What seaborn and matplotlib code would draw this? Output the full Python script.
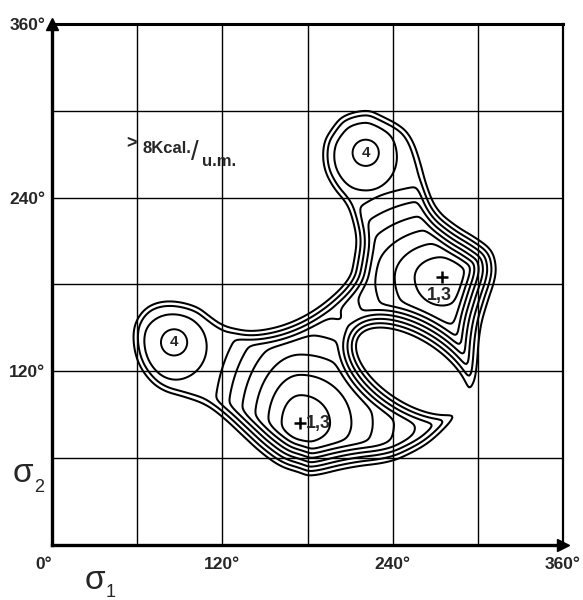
import numpy as np
import matplotlib
matplotlib.use("Agg")
import matplotlib.pyplot as plt
import seaborn as sns
from matplotlib.path import Path

# axes (degrees)
grid_positions = [0, 60, 120, 180, 240, 300, 360]
x_tick_labels = ["0°", "", "120°", "", "240°", "", "360°"]
y_tick_labels = ["", "", "120°", "", "240°", "", "360°"]

# contour levels, kcal/u.m.
levels = [1, 2, 3, 4, 5, 6, 7, 8]

# energy minima
min_labels = ["1,3", "1,3", "4", "4"]
min_x = [175, 275, 86, 221]
min_y = [84, 185, 137, 268]
min_energy = [-0.4, -0.4, 5.0, 5.0]
# how fast energy rises away from each minimum (deg per kcal): left / right / down / up
spread_left = [9.5, 14, 24, 24]
spread_right = [15, 13, 23, 22]
spread_down = [10, 14, 23, 23]
spread_up = [14, 10, 23, 25]

# outer 8 kcal boundary of the allowed region
env_x = [222, 231, 247, 254, 259, 264, 271, 285, 299, 310, 313, 312, 307, 301, 299, 296,
         287, 278, 266, 254, 238, 210, 182, 175, 161, 147, 135, 121, 109, 95, 76, 64,
         58, 57, 62, 71, 85, 102, 111, 118, 125, 142, 166, 189, 210, 213, 215, 212,
         208, 198, 191, 191, 198, 205]
env_y = [301, 297, 289, 280, 266, 247, 231, 220, 212, 204, 193, 183, 169, 149, 119, 109,
         93, 82, 71, 64, 57, 54, 47, 50, 54, 64, 75, 88, 97, 102, 107, 119,
         133, 149, 160, 167, 169, 165, 158, 153, 150, 147, 152, 164, 183, 197, 211, 225,
         236, 247, 261, 278, 289, 297]

# forbidden island between the two 1,3 wells (centre, half axes, tilt)
oval_center = (254, 120)
oval_axes = (45, 22)
oval_tilt = -32

g = np.arange(0, 361, 1.0)
X, Y = np.meshgrid(g, g)


def chaikin(pts, n=3):
    # round off the traced corners
    for _ in range(n):
        nxt = np.roll(pts, -1, axis=0)
        out = np.empty((2 * len(pts), 2))
        out[0::2] = 0.75 * pts + 0.25 * nxt
        out[1::2] = 0.25 * pts + 0.75 * nxt
        pts = out
    return pts


def signed_dist(pts):
    d = np.full(X.shape, np.inf)
    for (x1, y1), (x2, y2) in zip(pts, np.roll(pts, -1, axis=0)):
        vx, vy = x2 - x1, y2 - y1
        t = np.clip(((X - x1) * vx + (Y - y1) * vy) / (vx * vx + vy * vy + 1e-9), 0, 1)
        d = np.minimum(d, np.hypot(X - x1 - t * vx, Y - y1 - t * vy))
    inside = Path(pts).contains_points(np.column_stack([X.ravel(), Y.ravel()])).reshape(X.shape)
    return np.where(inside, -d, d)


def blur(z, sigma):
    r = int(3 * sigma)
    k = np.exp(-0.5 * (np.arange(-r, r + 1) / sigma) ** 2)
    k /= k.sum()
    zp = np.pad(z, r, mode="edge")
    zp = np.apply_along_axis(lambda v: np.convolve(v, k, mode="same"), 0, zp)
    zp = np.apply_along_axis(lambda v: np.convolve(v, k, mode="same"), 1, zp)
    return zp[r:-r, r:-r]


# wells
wells = []
for i in range(len(min_x)):
    dx = X - min_x[i]
    dy = Y - min_y[i]
    sx = np.where(dx < 0, spread_left[i], spread_right[i])
    sy = np.where(dy < 0, spread_down[i], spread_up[i])
    wells.append(min_energy[i] + np.hypot(dx / sx, dy / sy))
T = 0.12
E_w = -T * np.logaddexp.reduce(-np.array(wells) / T, axis=0)
E_w = -T * np.logaddexp(-E_w / T, -6.6 / T)

# walls
env_pts = chaikin(np.column_stack([env_x, env_y]).astype(float))
th = np.linspace(0, 2 * np.pi, 120, endpoint=False)
ca, sa = np.cos(np.radians(oval_tilt)), np.sin(np.radians(oval_tilt))
ox = oval_axes[0] * np.cos(th)
oy = oval_axes[1] * np.sin(th)
oval_pts = np.column_stack([oval_center[0] + ox * ca - oy * sa,
                            oval_center[1] + ox * sa + oy * ca])
k = 3.0
E_env = 8 + signed_dist(env_pts) / k
E_oval = 8 - signed_dist(oval_pts) / k

T2 = 0.25
E = T2 * np.logaddexp.reduce(np.array([E_w, E_env, E_oval]) / T2, axis=0)
E = blur(np.minimum(E, 12), 1.6)

# plot
sns.set_style("white")
plt.rcParams["font.family"] = ["Liberation Sans", "DejaVu Sans"]

fig = plt.figure(figsize=(5.83, 6.0), dpi=100)
ax = fig.add_axes([0.0892, 0.0917, 0.8765, 0.8683])

ax.contour(g, g, E, levels=levels, colors="black", linewidths=1.45)

ax.set_xlim(0, 360)
ax.set_ylim(0, 360)
ax.set_xticks(grid_positions)
ax.set_yticks(grid_positions)
ax.set_xticklabels(x_tick_labels, fontsize=12.5, fontweight="bold")
ax.set_yticklabels(y_tick_labels, fontsize=12.5, fontweight="bold")
ax.tick_params(axis="x", length=0, pad=9)
ax.tick_params(axis="y", length=0, pad=5)
ax.get_xticklabels()[0].set_ha("right")
ax.grid(True, color="black", linewidth=1.0)
ax.set_axisbelow(True)
for s in ax.spines.values():
    s.set_color("black")
    s.set_linewidth(1.6)
ax.spines["left"].set_linewidth(2.4)
ax.spines["bottom"].set_linewidth(2.4)
ax.spines["top"].set_linewidth(2.2)

# axis arrows
ax.plot(0, 360, marker="^", color="black", ms=9, clip_on=False)
ax.plot(360, 0, marker=">", color="black", ms=8, clip_on=False)

# minima labels
for name, x, y in zip(min_labels, min_x, min_y):
    if name == "4":
        ax.text(x, y + 3, "4", ha="center", va="center", fontsize=11, fontweight="bold",
                bbox=dict(boxstyle="circle,pad=0.4", fc="white", ec="black", lw=1.4))
ax.plot(min_x[:2], min_y[:2], marker="+", ls="none", color="black", ms=9, mew=1.8)
ax.text(min_x[1] - 2, min_y[1] - 7, "1,3", ha="center", va="top", fontsize=13, fontweight="bold")
ax.text(min_x[0] + 4, min_y[0], "1,3", ha="left", va="center", fontsize=13, fontweight="bold")

# energy note
ax.text(52, 277, ">", fontsize=13, fontweight="bold", va="center")
ax.text(64, 274, "8Kcal.", fontsize=12, fontweight="bold", va="center")
ax.text(98, 271, "/", fontsize=20, va="center")
ax.text(106, 265, "u.m.", fontsize=12, fontweight="bold", va="center")

# axis names
fig.text(0.022, 0.21, "σ", fontsize=24, ha="left", va="center")
fig.text(0.058, 0.188, "2", fontsize=13, ha="left", va="center")
fig.text(0.145, 0.033, "σ", fontsize=24, ha="left", va="center")
fig.text(0.181, 0.013, "1", fontsize=13, ha="left", va="center")

fig.savefig("out.png", dpi=100, facecolor="white")
